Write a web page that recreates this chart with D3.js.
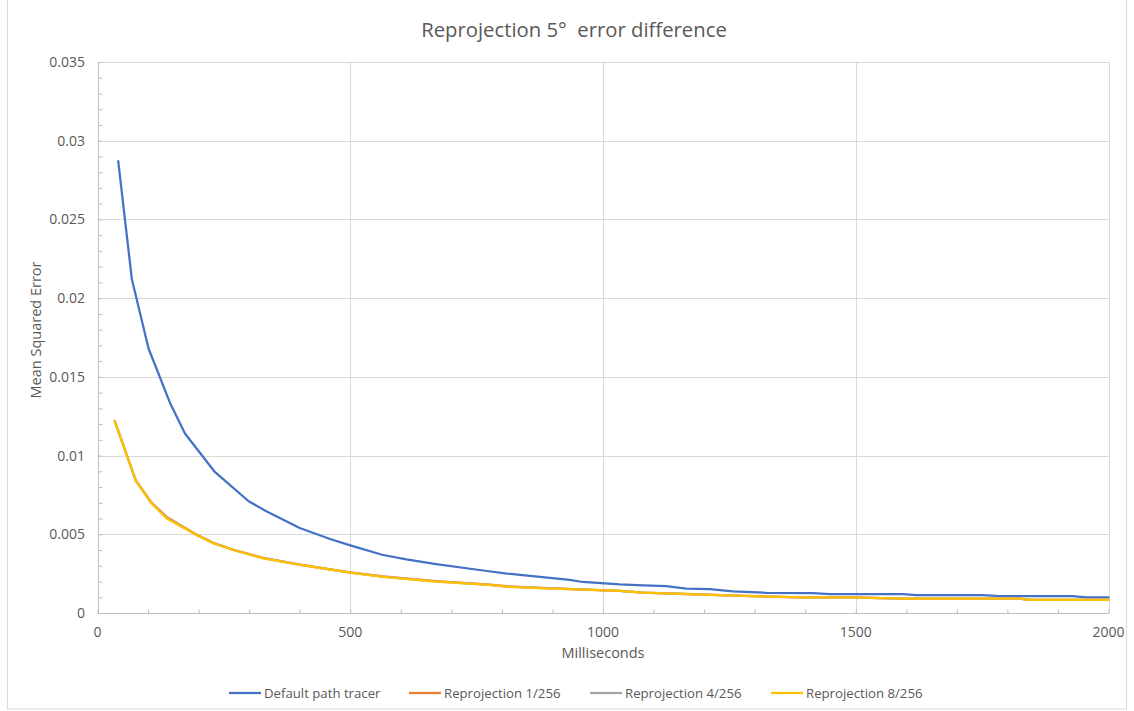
<!DOCTYPE html>
<html>
<head>
<meta charset="utf-8">
<script src="https://cdn.jsdelivr.net/npm/d3@7"></script>
<style>
  html, body { margin: 0; padding: 0; background: #ffffff; }
  svg { display: block; font-family: "Open Sans", "Noto Sans", sans-serif; }
  text { white-space: pre; }
</style>
</head>
<body>
<svg id="chart" width="1134" height="711"></svg>
<script>
// Series names and colours
const seriesNames = ["Default path tracer", "Reprojection 1/256", "Reprojection 4/256", "Reprojection 8/256"];
const seriesColors = ["#4472C4", "#ED7D31", "#A5A5A5", "#FFC000"];

// Default path tracer: [milliseconds, MSE]
const defaultTracer = [
  [41, 0.0287], [68, 0.0212], [101, 0.0168], [144, 0.0133], [173, 0.0114],
  [231, 0.0090], [299, 0.0071], [332, 0.0065], [400, 0.0054], [460, 0.0047],
  [500, 0.0043], [563, 0.0037], [611, 0.0034], [670, 0.0031], [763, 0.0027],
  [810, 0.0025], [875, 0.0023], [934, 0.0021], [960, 0.00197], [1033, 0.00182],
  [1080, 0.00176], [1125, 0.0017], [1165, 0.00155], [1211, 0.00152], [1257, 0.00138],
  [1323, 0.00128], [1415, 0.00126], [1448, 0.0012], [1593, 0.0012], [1620, 0.00114],
  [1751, 0.00113], [1778, 0.00108], [1929, 0.00107], [1955, 0.001], [2000, 0.001]
];

// Reprojection 1/256
const reproj1 = [
  [34, 0.0122], [76, 0.0084], [106, 0.00705], [137, 0.0061], [196, 0.00498],
  [229, 0.00446], [269, 0.00402], [328, 0.0035], [401, 0.00308], [500, 0.00258],
  [565, 0.00232], [670, 0.00202], [776, 0.0018], [809, 0.0017], [900, 0.00157],
  [1033, 0.00141], [1079, 0.0013], [1165, 0.00121], [1277, 0.00109], [1389, 0.001],
  [1487, 0.001], [1593, 0.00092], [1824, 0.00091], [1843, 0.00084], [2000, 0.00084]
];

// Reprojection 4/256
const reproj4 = [
  [34, 0.0122], [76, 0.0084], [106, 0.00702], [137, 0.00606], [196, 0.00496],
  [229, 0.00444], [269, 0.004], [328, 0.00348], [401, 0.00306], [500, 0.00257],
  [565, 0.00231], [670, 0.00201], [776, 0.00179], [809, 0.00168], [900, 0.00156],
  [1033, 0.0014], [1079, 0.00129], [1165, 0.0012], [1277, 0.00108], [1389, 0.001],
  [1487, 0.001], [1593, 0.00091], [1824, 0.00091], [1843, 0.00083], [2000, 0.00083]
];

// Reprojection 8/256
const reproj8 = [
  [34, 0.0122], [76, 0.0084], [106, 0.007], [137, 0.006], [196, 0.00495],
  [229, 0.00443], [269, 0.004], [328, 0.00347], [401, 0.00305], [500, 0.00256],
  [565, 0.0023], [670, 0.002], [776, 0.00178], [809, 0.00167], [900, 0.00155],
  [1033, 0.0014], [1079, 0.00129], [1165, 0.0012], [1277, 0.00108], [1389, 0.001],
  [1487, 0.001], [1593, 0.00091], [1824, 0.00091], [1843, 0.00083], [2000, 0.00083]
];

const xTicks = [0, 500, 1000, 1500, 2000];
const xMinorTicks = d3.range(0, 2001, 100);
const yTicks = [0, 0.005, 0.01, 0.015, 0.02, 0.025, 0.03, 0.035];
const yTickLabels = ["0", "0.005", "0.01", "0.015", "0.02", "0.025", "0.03", "0.035"];
const yMinorTicks = d3.range(0, 36).map(i => i * 0.001);

const titleText = "Reprojection 5°  error difference";
const xTitle = "Milliseconds";
const yTitle = "Mean Squared Error";

const allSeries = [defaultTracer, reproj1, reproj4, reproj8];

const svg = d3.select("#chart");
const textColor = "#595959";
const gridColor = "#d9d9d9";
const axisColor = "#bfbfbf";

// Outer chart border
svg.append("rect")
  .attr("x", 7.5).attr("y", -1).attr("width", 1119).attr("height", 710)
  .attr("fill", "#ffffff").attr("stroke", "#d9d9d9").attr("stroke-width", 1);

const x = d3.scaleLinear().domain([0, 2000]).range([97.5, 1108.5]);
const y = d3.scaleLinear().domain([0, 0.035]).range([613, 62]);

// Gridlines
const grid = svg.append("g");
grid.selectAll("line.h").data(yTicks.slice(1)).join("line")
  .attr("x1", x(0)).attr("x2", x(2000))
  .attr("y1", d => Math.round(y(d)) + 0.5).attr("y2", d => Math.round(y(d)) + 0.5)
  .attr("stroke", gridColor).attr("stroke-width", 1);
grid.selectAll("line.v").data(xTicks.slice(1)).join("line")
  .attr("y1", y(0.035)).attr("y2", y(0))
  .attr("x1", d => Math.round(x(d)) + 0.5).attr("x2", d => Math.round(x(d)) + 0.5)
  .attr("stroke", gridColor).attr("stroke-width", 1);

// Axes with inward minor ticks
const xAxis = svg.append("g").attr("transform", `translate(0,${Math.round(y(0)) + 0.5})`)
  .call(d3.axisTop(x).tickValues(xMinorTicks).tickSize(4).tickFormat(""));
xAxis.select(".domain").remove();
xAxis.append("line").attr("x1", x(0)).attr("x2", x(2000)).attr("stroke", axisColor);
xAxis.selectAll(".tick line").attr("stroke", axisColor);

const yAxis = svg.append("g").attr("transform", `translate(${Math.round(x(0)) + 0.5},0)`)
  .call(d3.axisRight(y).tickValues(yMinorTicks).tickSize(4).tickFormat(""));
yAxis.select(".domain").remove();
yAxis.append("line").attr("y1", y(0)).attr("y2", y(0.035)).attr("stroke", axisColor);
yAxis.selectAll(".tick line").attr("stroke", axisColor);

// Tick labels
svg.append("g").selectAll("text").data(xTicks).join("text")
  .attr("x", d => x(d)).attr("y", 637)
  .attr("text-anchor", "middle").attr("fill", textColor).attr("font-size", 14)
  .text(d => d);
svg.append("g").selectAll("text").data(yTicks).join("text")
  .attr("x", 85).attr("y", d => y(d) + 5)
  .attr("text-anchor", "end").attr("fill", textColor).attr("font-size", 14)
  .text((d, i) => yTickLabels[i]);

// Titles
svg.append("text").attr("x", 574).attr("y", 37)
  .attr("text-anchor", "middle").attr("fill", textColor).attr("font-size", 20.3)
  .text(titleText);
svg.append("text").attr("x", 603).attr("y", 658)
  .attr("text-anchor", "middle").attr("fill", textColor).attr("font-size", 14.5)
  .text(xTitle);
svg.append("text").attr("transform", "translate(41,330) rotate(-90)")
  .attr("text-anchor", "middle").attr("fill", textColor).attr("font-size", 14.5)
  .text(yTitle);

// Series lines
const line = d3.line().x(d => x(d[0])).y(d => y(d[1]));
svg.append("g").selectAll("path").data(allSeries).join("path")
  .attr("d", line)
  .attr("fill", "none")
  .attr("stroke", (d, i) => seriesColors[i])
  .attr("stroke-width", 2.25)
  .attr("stroke-linejoin", "round")
  .attr("stroke-linecap", "round");

// Legend
const legendX = [229, 409, 590, 771];
const legend = svg.append("g").selectAll("g").data(seriesNames).join("g")
  .attr("transform", (d, i) => `translate(${legendX[i]},693)`);
legend.append("line").attr("x1", 0).attr("x2", 32).attr("y1", 0).attr("y2", 0)
  .attr("stroke", (d, i) => seriesColors[i]).attr("stroke-width", 2.25);
legend.append("text").attr("x", 35).attr("y", 4.5)
  .attr("fill", textColor).attr("font-size", 13.2)
  .text(d => d);
</script>
</body>
</html>
